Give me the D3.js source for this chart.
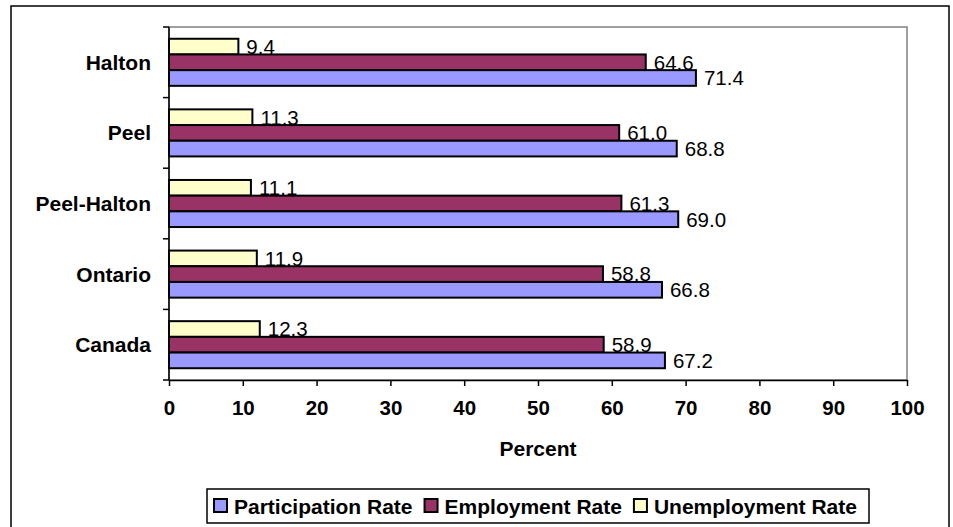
<!DOCTYPE html>
<html>
<head>
<meta charset="utf-8">
<script src="https://cdn.jsdelivr.net/npm/d3@7/dist/d3.min.js"></script>
<style>
  body { margin: 0; background: #fff; }
  svg { display: block; font-family: "Liberation Sans", Arial, sans-serif; }
</style>
</head>
<body>
<svg id="chart" width="953" height="527"></svg>
<script>
"use strict";

// Data
const regions = ["Halton", "Peel", "Peel-Halton", "Ontario", "Canada"];
const participationRate = [71.4, 68.8, 69.0, 66.8, 67.2];
const employmentRate = [64.6, 61.0, 61.3, 58.8, 58.9];
const unemploymentRate = [9.4, 11.3, 11.1, 11.9, 12.3];
const xTicks = [0, 10, 20, 30, 40, 50, 60, 70, 80, 90, 100];

// Series as drawn top to bottom inside each group
const series = [
    { name: "Unemployment Rate", values: unemploymentRate, color: "#FFFFCC" },
    { name: "Employment Rate", values: employmentRate, color: "#993366" },
    { name: "Participation Rate", values: participationRate, color: "#9999FF" }
];
const legendOrder = ["Participation Rate", "Employment Rate", "Unemployment Rate"];

const svg = d3.select('#chart');

// Outer chart border
svg.append('rect')
    .attr('x', 11).attr('y', 6)
    .attr('width', 938).attr('height', 540)
    .attr('fill', 'none')
    .attr('stroke', '#000')
    .attr('stroke-width', 1.5);

const plot = { left: 169, right: 907, top: 27, bottom: 380 };

const x = d3.scaleLinear()
    .domain([0, 100])
    .range([plot.left, plot.right]);

const y = d3.scaleBand()
    .domain(regions)
    .range([plot.top, plot.bottom]);

// Gap between groups is 1.5 bar widths
const barH = y.bandwidth() / 4.5;
const inner = d3.scaleBand()
    .domain(series.map(s => s.name))
    .range([barH * 0.75, barH * 3.75]);

// Plot area frame (grey)
svg.append('rect')
    .attr('x', plot.left).attr('y', plot.top)
    .attr('width', plot.right - plot.left)
    .attr('height', plot.bottom - plot.top)
    .attr('fill', 'none')
    .attr('stroke', '#808080')
    .attr('stroke-width', 1.5);

// Bars
const groups = svg.append('g')
    .selectAll('g')
    .data(regions)
    .enter().append('g')
    .attr('transform', d => 'translate(0,' + y(d) + ')');

series.forEach(s => {
    groups.append('rect')
        .attr('x', x(0))
        .attr('y', inner(s.name))
        .attr('width', (d, i) => x(s.values[i]) - x(0))
        .attr('height', inner.bandwidth())
        .attr('fill', s.color)
        .attr('stroke', '#000')
        .attr('stroke-width', 2);
});

// Value labels
series.forEach(s => {
    groups.append('text')
        .attr('x', (d, i) => x(s.values[i]) + 8)
        .attr('y', inner(s.name) + inner.bandwidth() / 2)
        .attr('dy', '0.36em')
        .style('font-size', '20.5px')
        .attr('fill', '#000')
        .text((d, i) => s.values[i].toFixed(1));
});

// X axis
const xAxis = svg.append('g')
    .attr('transform', 'translate(0,' + plot.bottom + ')')
    .call(d3.axisBottom(x).tickValues(xTicks).tickSize(6).tickPadding(14).tickSizeOuter(0));
xAxis.select('.domain').attr('stroke', '#000').attr('stroke-width', 1.5);
xAxis.selectAll('.tick line').attr('stroke', '#000').attr('stroke-width', 1.5);
xAxis.selectAll('.tick text')
    .style('font-size', '20.5px')
    .style('font-weight', 'bold')
    .style('font-family', '"Liberation Sans", Arial, sans-serif')
    .attr('fill', '#000');

// Y axis: ticks at band boundaries
const yAxisG = svg.append('g');
yAxisG.append('line')
    .attr('x1', plot.left).attr('x2', plot.left)
    .attr('y1', plot.top).attr('y2', plot.bottom)
    .attr('stroke', '#000').attr('stroke-width', 1.5);
const boundaries = regions.map(r => y(r)).concat([plot.bottom]);
yAxisG.selectAll('line.tick')
    .data(boundaries)
    .enter().append('line')
    .attr('class', 'tick')
    .attr('x1', plot.left - 6).attr('x2', plot.left)
    .attr('y1', d => d).attr('y2', d => d)
    .attr('stroke', '#000').attr('stroke-width', 1.5);
yAxisG.selectAll('text')
    .data(regions)
    .enter().append('text')
    .attr('x', 151)
    .attr('y', d => y(d) + y.bandwidth() / 2)
    .attr('dy', '0.36em')
    .attr('text-anchor', 'end')
    .style('font-size', '21px')
    .style('font-weight', 'bold')
    .text(d => d);

// Axis title
svg.append('text')
    .attr('x', (plot.left + plot.right) / 2)
    .attr('y', 456)
    .attr('text-anchor', 'middle')
    .style('font-size', '21px')
    .style('font-weight', 'bold')
    .text('Percent');

// Legend
const legend = svg.append('g');
legend.append('rect')
    .attr('x', 207).attr('y', 489)
    .attr('width', 662).attr('height', 34)
    .attr('fill', '#fff')
    .attr('stroke', '#000')
    .attr('stroke-width', 1.5);

let lx = 214;
legendOrder.forEach(name => {
    const s = series.find(d => d.name === name);
    legend.append('rect')
        .attr('x', lx).attr('y', 499)
        .attr('width', 13).attr('height', 13)
        .attr('fill', s.color)
        .attr('stroke', '#000')
        .attr('stroke-width', 2);
    const t = legend.append('text')
        .attr('x', lx + 20)
        .attr('y', 506)
        .attr('dy', '0.36em')
        .style('font-size', '21px')
        .style('font-weight', 'bold')
        .text(name);
    lx = lx + 20 + t.node().getComputedTextLength() + 12;
});
</script>
</body>
</html>
